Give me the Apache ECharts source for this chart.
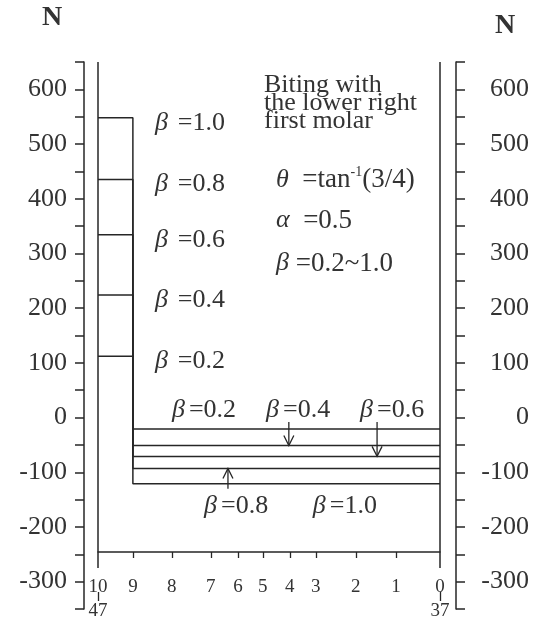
<!DOCTYPE html>
<html>
<head>
<meta charset="utf-8">
<script src="https://cdn.jsdelivr.net/npm/echarts@6/dist/echarts.min.js"></script>
<style>
  html, body { margin: 0; padding: 0; background: #fff; }
  #chart { width: 539px; height: 621px; }
</style>
</head>
<body>
<div id="chart"></div>
<script>
// Stations along the lower arch: arch position (0 at the 37 end, 100 at the 47 end)
const stationLabels = ['10', '9', '8', '7', '6', '5', '4', '3', '2', '1', '0'];
const stationPos = [100, 89.8, 78.4, 67.0, 59.1, 51.8, 43.9, 36.3, 24.6, 12.9, 0];
const endTeeth = ['47', '37'];
const endTeethPos = [100, 0];

// Force ratio beta and the resulting force N on each side of station 9
const betaLabels = ['1.0', '0.8', '0.6', '0.4', '0.2'];
const forceUpper = [548, 435, 334, 224, 112];   // between stations 10 and 9
const forceLower = [-121, -93, -71, -51, -21];  // between stations 9 and 0

// N axis
const yLabelValues = [-300, -200, -100, 0, 100, 200, 300, 400, 500, 600];

// Annotation labels around the lower segments: [beta, arch position, N]
const lowerNotes = [
  ['0.2', 69.0, 14],
  ['0.4', 41.5, 14],
  ['0.6', 14.0, 14],
  ['0.8', 59.6, -162],
  ['1.0', 27.8, -162]
];
// Pointer arrows: [arch position, N at tail, beta index of the target line]
const arrows = [
  [44.2, -8, 3],
  [18.4, -8, 2],
  [62.0, -130, 1]
];

const INK = '#262626';
const TXT = '#333333';
const SERIF = '"Liberation Serif", "DejaVu Serif", serif';

function betaRich(size, gap) {
  return {
    g: { fontFamily: SERIF, fontStyle: 'italic', fontSize: size, color: TXT, padding: [0, gap, 0, 0] },
    t: { fontFamily: SERIF, fontSize: size, color: TXT }
  };
}

function stationText(v, list, labels) {
  for (let i = 0; i < list.length; i++) if (Math.abs(list[i] - v) < 1e-6) return labels[i];
  return '';
}

const series = [];
betaLabels.forEach((b, i) => {
  series.push({
    name: 'beta ' + b,
    type: 'line',
    symbol: 'none',
    silent: true,
    lineStyle: { color: INK, width: 1.5 },
    data: [
      [stationPos[0], forceUpper[i]],
      [stationPos[1], forceUpper[i]],
      [stationPos[1], forceLower[i]],
      [stationPos[stationPos.length - 1], forceLower[i]]
    ]
  });
});

// Inner frame verticals at both ends of the arch
[stationPos[0], stationPos[stationPos.length - 1]].forEach(p => {
  series.push({
    type: 'line', symbol: 'none', silent: true,
    lineStyle: { color: INK, width: 1.5 },
    data: [[p, 650], [p, -275]]
  });
});

// Beta labels at the end of each upper segment
series.push({
  type: 'scatter',
  symbolSize: 0,
  silent: true,
  itemStyle: { opacity: 1 },
  label: {
    show: true, position: 'right', distance: 22, offset: [0, 5],
    formatter: p => '{g|β}{t|=' + p.data.beta + '}', rich: betaRich(26, 10)
  },
  data: betaLabels.map((b, i) => ({ value: [stationPos[1], forceUpper[i]], beta: b }))
});

// Text notes near the lower segments
series.push({
  type: 'scatter',
  symbolSize: 0,
  silent: true,
  itemStyle: { opacity: 1 },
  label: {
    show: true, position: 'inside',
    formatter: p => '{g|β}{t|=' + p.data.beta + '}', rich: betaRich(26, 4)
  },
  data: lowerNotes.map(n => ({ value: [n[1], n[2]], beta: n[0] }))
});

// Pointer arrows with open heads touching their target line
series.push({
  type: 'custom',
  silent: true,
  encode: { x: 0, y: [1, 2] },
  data: arrows.map(a => [a[0], a[1], forceLower[a[2]]]),
  renderItem: (params, api) => {
    const tail = api.coord([api.value(0), api.value(1)]);
    const tip = api.coord([api.value(0), api.value(2)]);
    const dir = tip[1] > tail[1] ? 1 : -1;
    return {
      type: 'group',
      children: [
        { type: 'line', shape: { x1: tail[0], y1: tail[1], x2: tip[0], y2: tip[1] },
          style: { stroke: INK, lineWidth: 1.3 } },
        { type: 'polyline',
          shape: { points: [[tip[0] - 5, tip[1] - dir * 10], [tip[0], tip[1]], [tip[0] + 5, tip[1] - dir * 10]] },
          style: { stroke: INK, fill: null, lineWidth: 1.3 } }
      ]
    };
  }
});

const infoRich = {
  g: { fontFamily: SERIF, fontStyle: 'italic', fontSize: 26, fill: TXT, lineHeight: 30 },
  t: { fontFamily: SERIF, fontSize: 27, fill: TXT, lineHeight: 30 },
  s: { fontFamily: SERIF, fontSize: 14, fill: TXT, verticalAlign: 'top', lineHeight: 30 }
};

const chart = echarts.init(document.getElementById('chart'), null, { renderer: 'canvas' });
chart.setOption({
  animation: false,
  backgroundColor: '#fff',
  grid: { left: 98, right: 99, top: 62, bottom: 12 },
  xAxis: [
    {
      type: 'value', min: 0, max: 100, inverse: true,
      position: 'bottom', offset: -57,
      axisLine: { show: true, onZero: false, lineStyle: { color: INK, width: 1.5 } },
      axisTick: { show: true, length: 6, customValues: stationPos.slice(1, -1), lineStyle: { color: INK, width: 1.3 } },
      axisLabel: {
        customValues: stationPos, margin: 26, fontSize: 19, fontFamily: SERIF, color: TXT,
        formatter: v => stationText(v, stationPos, stationLabels)
      },
      splitLine: { show: false }
    },
    {
      type: 'value', min: 0, max: 100, inverse: true,
      position: 'bottom', offset: -8,
      axisLine: { show: false, onZero: false },
      axisTick: { show: true, inside: true, length: 9, customValues: endTeethPos, lineStyle: { color: INK, width: 1.3 } },
      axisLabel: {
        customValues: endTeethPos, margin: 1, fontSize: 19, fontFamily: SERIF, color: TXT,
        formatter: v => stationText(v, endTeethPos, endTeeth)
      },
      splitLine: { show: false }
    }
  ],
  yAxis: [
    {
      type: 'value', min: -350, max: 650, interval: 50,
      position: 'left', offset: 14,
      name: 'N', nameLocation: 'end', nameGap: 30,
      nameTextStyle: { fontFamily: SERIF, fontWeight: 'bold', fontSize: 28, color: TXT, padding: [0, 64, 0, 0] },
      axisLine: { show: true, onZero: false, lineStyle: { color: INK, width: 1.5 } },
      axisTick: { show: true, length: 9, lineStyle: { color: INK, width: 1.5 } },
      axisLabel: {
        margin: 17, fontSize: 26, fontFamily: SERIF, color: TXT,
        formatter: v => yLabelValues.indexOf(v) >= 0 ? String(v) : ''
      },
      splitLine: { show: false }
    },
    {
      type: 'value', min: -350, max: 650, interval: 50,
      position: 'right', offset: 16,
      name: 'N', nameLocation: 'end', nameGap: 22,
      nameTextStyle: { fontFamily: SERIF, fontWeight: 'bold', fontSize: 28, color: TXT, padding: [0, 0, 0, 98] },
      axisLine: { show: true, onZero: false, lineStyle: { color: INK, width: 1.5 } },
      axisTick: { show: true, length: 9, lineStyle: { color: INK, width: 1.5 } },
      axisLabel: {
        margin: 73, align: 'right', fontSize: 26, fontFamily: SERIF, color: TXT,
        formatter: v => yLabelValues.indexOf(v) >= 0 ? String(v) : ''
      },
      splitLine: { show: false }
    }
  ],
  graphic: [
    {
      type: 'text', left: 264, top: 72, silent: true,
      style: {
        text: 'Biting with\nthe lower right\nfirst molar',
        font: '26px ' + SERIF, lineHeight: 18, fill: TXT
      }
    },
    {
      type: 'text', left: 276, top: 165, silent: true,
      style: { text: '{g|θ}{t|  =tan}{s|-1}{t|(3/4)}', rich: infoRich }
    },
    {
      type: 'text', left: 276, top: 207, silent: true,
      style: { text: '{g|α}{t|  =0.5}', rich: infoRich }
    },
    {
      type: 'text', left: 276, top: 250, silent: true,
      style: { text: '{g|β}{t| =0.2~1.0}', rich: infoRich }
    }
  ],
  series: series
});
</script>
</body>
</html>
